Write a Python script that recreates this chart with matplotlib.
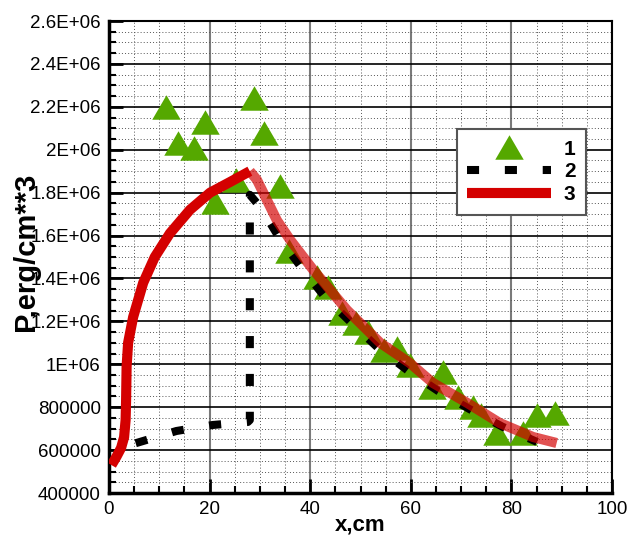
import matplotlib
matplotlib.use("Agg")
import matplotlib.pyplot as plt
from matplotlib.lines import Line2D
from matplotlib.ticker import MultipleLocator, FixedLocator, FixedFormatter
from matplotlib.path import Path

plt.rcParams['font.family'] = ['Liberation Sans', 'DejaVu Sans']

# ---- data ----
tri_x = [11.3, 13.7, 16.9, 19.1, 21.1, 25.2, 28.8, 30.8, 34.0, 35.8,
         41.3, 43.5, 46.3, 49.2, 51.5, 54.7, 57.3, 59.8, 64.2, 66.4,
         69.4, 72.4, 74.0, 77.1, 82.3, 85.1, 88.7]
tri_y = [2.20e6, 2.03e6, 2.01e6, 2.13e6, 1.755e6, 1.86e6, 2.24e6, 2.08e6, 1.83e6, 1.53e6,
         1.408e6, 1.36e6, 1.239e6, 1.192e6, 1.15e6, 1.067e6, 1.076e6, 0.997e6, 0.894e6, 0.962e6,
         0.848e6, 0.80e6, 0.764e6, 0.68e6, 0.68e6, 0.764e6, 0.773e6]

s2_x = [5.3, 13.4, 20.6, 27.6, 28.0, 28.0, 30.2, 34.0, 38.3, 42.9, 48.2, 53.5,
        59.5, 65.4, 71.6, 78.3, 85.1]
s2_y = [0.632e6, 0.689e6, 0.717e6, 0.731e6, 0.74e6, 1.79e6, 1.729e6, 1.584e6, 1.449e6,
        1.314e6, 1.193e6, 1.076e6, 0.969e6, 0.876e6, 0.792e6, 0.708e6, 0.638e6]

s3_rise_x = [0.5, 1.5, 2.4, 3.0, 3.3, 3.4, 3.5, 3.8, 4.8, 6.8, 9.1, 12.1, 16.1, 20.1, 24.1, 28.0]
s3_rise_y = [0.53e6, 0.57e6, 0.61e6, 0.66e6, 0.74e6, 0.834e6, 0.99e6, 1.10e6, 1.22e6, 1.38e6,
             1.50e6, 1.61e6, 1.72e6, 1.80e6, 1.85e6, 1.90e6]
s3_fall_x = [28.0, 29.4, 33.4, 36.0, 40.6, 47.3, 53.9, 59.8, 64.4, 71.2, 77.7, 84.3, 89.0]
s3_fall_y = [1.90e6, 1.86e6, 1.67e6, 1.58e6, 1.44e6, 1.253e6, 1.10e6, 1.006e6, 0.913e6,
             0.82e6, 0.726e6, 0.661e6, 0.633e6]

ytick_vals = [400000, 600000, 800000, 1000000, 1200000, 1400000, 1600000,
              1800000, 2000000, 2200000, 2400000, 2600000]
ytick_labels = ['400000', '600000', '800000', '1E+06', '1.2E+06', '1.4E+06', '1.6E+06',
                '1.8E+06', '2E+06', '2.2E+06', '2.4E+06', '2.6E+06']
xtick_vals = [0, 20, 40, 60, 80, 100]
legend_labels = ['1', '2', '3']

GREEN = '#55a800'
RED = '#d40000'

fig = plt.figure(figsize=(6.27, 5.35), dpi=100)
ax = fig.add_axes([109/627, 1-493/535, (612-109)/627, (493-21)/535])

tri = Path([(-1, -0.86), (1, -0.86), (0, 0.86), (-1, -0.86)],
           [Path.MOVETO, Path.LINETO, Path.LINETO, Path.CLOSEPOLY])
ms = 20.5
ax.plot(tri_x, tri_y, linestyle='none', marker=tri, markersize=ms,
        color=GREEN, markeredgewidth=0, zorder=3)

dash = (0, (1.5, 3.2))
lw2 = 5.8
ax.plot(s2_x, s2_y, color='black', lw=lw2, linestyle=dash,
        dash_capstyle='butt', zorder=4)

lw3 = 7.3
ax.plot(s3_rise_x, s3_rise_y, color=RED, lw=lw3, solid_capstyle='butt',
        solid_joinstyle='round', zorder=5)
ax.plot(s3_fall_x, s3_fall_y, color=RED, lw=lw3, alpha=0.68,
        solid_capstyle='butt', solid_joinstyle='round', zorder=5)

ax.set_xlim(0, 100)
ax.set_ylim(400000, 2600000)
ax.xaxis.set_major_locator(FixedLocator(xtick_vals))
ax.xaxis.set_minor_locator(MultipleLocator(5))
ax.yaxis.set_major_locator(FixedLocator(ytick_vals))
ax.yaxis.set_major_formatter(FixedFormatter(ytick_labels))
ax.yaxis.set_minor_locator(MultipleLocator(50000))

# grids
ax.grid(which='minor', axis='both', color='#555555', lw=0.7, linestyle=(0, (1, 2.2)), zorder=1)
ax.grid(which='major', axis='y', color='black', lw=1.2, linestyle='-', zorder=1)
ax.grid(which='major', axis='x', color='#7a7a7a', lw=1.5, linestyle='-', zorder=1)
ax.set_axisbelow(True)

ax.tick_params(which='major', direction='in', length=10, width=2, labelsize=13.5,
               pad=6, top=False, right=False)
ax.tick_params(which='minor', direction='in', length=5, width=1.5, top=False, right=False)

for s in ['left', 'bottom']:
    ax.spines[s].set_linewidth(2.5)
for s in ['top', 'right']:
    ax.spines[s].set_linewidth(1.5)

ax.set_xlabel('x,cm', fontsize=16, fontweight='bold')
ax.xaxis.set_label_coords(0.5, -0.045)
ax.set_ylabel('P,erg/cm**3', fontsize=21, fontweight='bold')
ax.yaxis.set_label_coords(-0.137, 0.51)

handles = [
    Line2D([], [], linestyle='none', marker=tri, markersize=ms, color=GREEN, markeredgewidth=0),
    Line2D([], [], color='black', lw=lw2, linestyle=dash, dash_capstyle='butt'),
    Line2D([], [], color=RED, lw=lw3, solid_capstyle='butt'),
]
leg = ax.legend(handles, legend_labels, loc='upper left', bbox_to_anchor=(0.691, 0.7706),
                prop={'weight': 'bold', 'size': 15}, handlelength=4.05, handletextpad=0.6,
                borderpad=0.5, labelspacing=0.18, borderaxespad=0, fancybox=False,
                framealpha=1, edgecolor='#555555', markerfirst=True)
leg.get_frame().set_linewidth(1.5)
leg.set_zorder(10)

fig.savefig('out.png', dpi=100)
